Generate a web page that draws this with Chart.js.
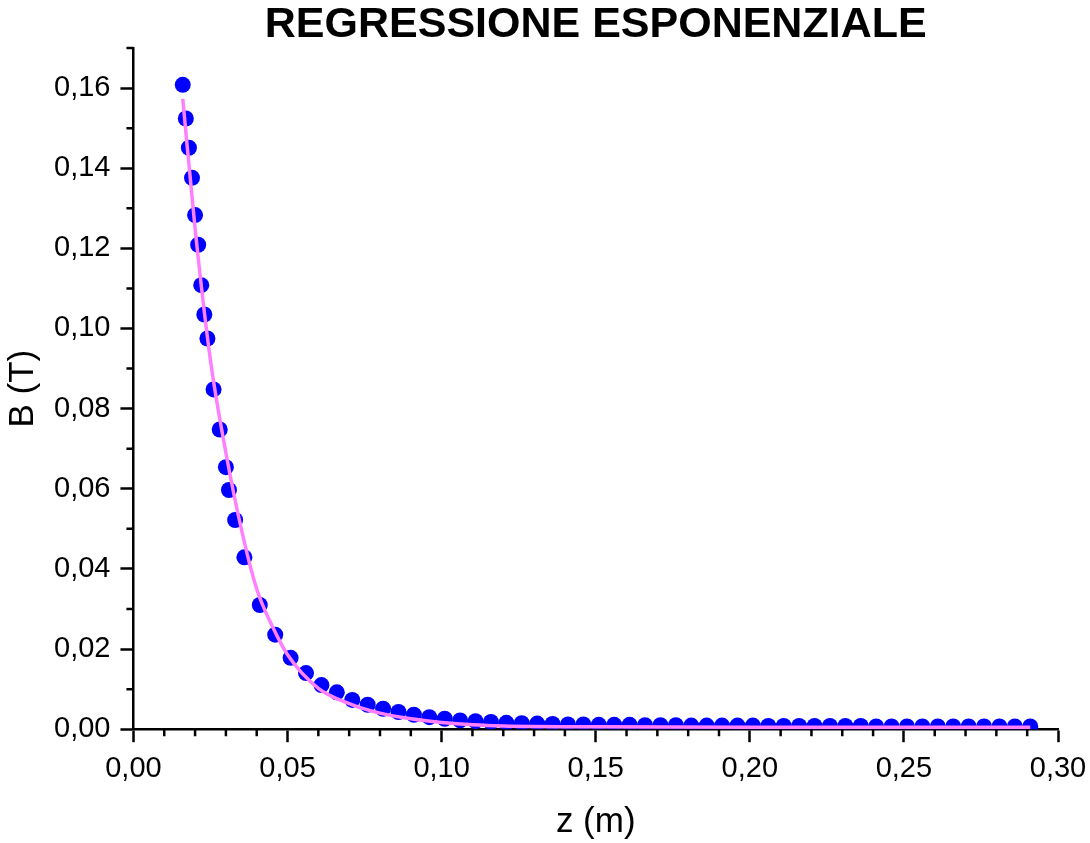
<!doctype html>
<html>
<head>
	<meta charset="utf-8">
	<title>Regressione esponenziale</title>
	<script src="https://cdn.jsdelivr.net/npm/chart.js@4.4.1/dist/chart.umd.min.js"></script>
	<style>
		html, body {margin:0; padding:0; background:#fff}
		#wrap {width:1090px; height:843px}
	</style>
</head>
<body>
	<div id="wrap"><canvas id="canvas" width="1090" height="843"></canvas></div>
	<script>
		// punti misurati: z (m), B (T)
		var zMis = [0.016, 0.017, 0.018, 0.019, 0.020, 0.021, 0.022, 0.023, 0.024, 0.026,
			0.028, 0.030, 0.031, 0.033, 0.036, 0.041, 0.046, 0.051, 0.056, 0.061,
			0.066, 0.071, 0.076, 0.081, 0.086, 0.091, 0.096, 0.101, 0.106, 0.111,
			0.116, 0.121, 0.126, 0.131, 0.136, 0.141, 0.146, 0.151, 0.156, 0.161,
			0.166, 0.171, 0.176, 0.181, 0.186, 0.191, 0.196, 0.201, 0.206, 0.211,
			0.216, 0.221, 0.226, 0.231, 0.236, 0.241, 0.246, 0.251, 0.256, 0.261,
			0.266, 0.271, 0.276, 0.281, 0.286, 0.291];
		var bMis = [0.1608, 0.1524, 0.1451, 0.1376, 0.1283, 0.1209, 0.1108, 0.1035, 0.0975, 0.0848,
			0.0748, 0.0654, 0.0597, 0.0522, 0.0429, 0.0310, 0.0236, 0.0178, 0.0140, 0.0110,
			0.0092, 0.0073, 0.0061, 0.0051, 0.0043, 0.0036, 0.0030, 0.0026, 0.0022, 0.0020,
			0.0018, 0.0016, 0.0015, 0.0014, 0.0013, 0.0012, 0.0012, 0.0011, 0.0011, 0.0011,
			0.0010, 0.0010, 0.0010, 0.0009, 0.0009, 0.0009, 0.0009, 0.0009, 0.0008, 0.0008,
			0.0008, 0.0008, 0.0008, 0.0008, 0.0008, 0.0007, 0.0007, 0.0007, 0.0007, 0.0007,
			0.0007, 0.0007, 0.0007, 0.0007, 0.0007, 0.0007];

		// curva di fit
		var zFit = [0.016, 0.020, 0.025, 0.030, 0.035, 0.040, 0.045, 0.050, 0.060, 0.070,
			0.080, 0.090, 0.100, 0.110, 0.120, 0.150, 0.200, 0.250, 0.291];
		var bFit = [0.1573, 0.1250, 0.0920, 0.0690, 0.0500, 0.0350, 0.0258, 0.0186, 0.0102, 0.0064,
			0.0040, 0.0026, 0.0017, 0.0011, 0.0008, 0.0006, 0.0005, 0.0005, 0.0005];

		var fmt = function (v) { return Number(v).toFixed(2).replace('.', ','); };

		// tacche secondarie (lunghezza diversa dalle principali)
		var minorTicks = {
			id: 'minorTicks',
			afterDraw: function (chart) {
				var c = chart.ctx, xs = chart.scales.x, ys = chart.scales.y;
				var area = chart.chartArea;
				c.save();
				c.strokeStyle = '#000';
				c.lineWidth = 2.5;
				c.beginPath();
				for (var i = 1; i < 30; i++) {
					if (i % 5 === 0) continue;
					var px = xs.getPixelForValue(i / 100);
					c.moveTo(px, area.bottom);
					c.lineTo(px, area.bottom + 7);
				}
				for (var j = 1; j <= 17; j += 2) {
					var py = ys.getPixelForValue(j / 100);
					c.moveTo(area.left, py);
					c.lineTo(area.left - 7, py);
				}
				c.stroke();
				c.restore();
			}
		};

		function drawChart() {
			var ctx = document.getElementById('canvas').getContext('2d');
			new Chart(ctx, {
				type: 'scatter',
				data: {
					datasets: [{
						label: 'fit',
						data: zFit.map(function (z, i) { return {x: z, y: bFit[i]}; }),
						showLine: true,
						borderColor: '#ff80ff',
						borderWidth: 3.5,
						pointRadius: 0,
						cubicInterpolationMode: 'monotone',
						order: 0
					}, {
						label: 'B',
						data: zMis.map(function (z, i) { return {x: z, y: bMis[i]}; }),
						backgroundColor: '#0000ff',
						borderWidth: 0,
						pointRadius: 8,
						order: 1
					}]
				},
				options: {
					responsive: false,
					animation: false,
					layout: {padding: {left: 2, right: 0, top: 0, bottom: 0}},
					plugins: {
						legend: {display: false},
						tooltip: {enabled: false},
						title: {
							display: true,
							text: 'REGRESSIONE ESPONENZIALE',
							fullSize: false,
							color: '#000',
							font: {family: 'Liberation Sans', size: 43, weight: 'bold', lineHeight: 1.0},
							padding: {top: 4, bottom: 1}
						}
					},
					scales: {
						x: {
							type: 'linear',
							min: 0, max: 0.30,
							afterFit: function (s) { s.paddingRight = 32; },
							border: {color: '#000', width: 2.5},
							grid: {drawOnChartArea: false, drawTicks: true, tickLength: 13, tickWidth: 2.5, tickColor: '#000'},
							ticks: {stepSize: 0.05, includeBounds: false, color: '#000', padding: 9,
								font: {family: 'Liberation Sans', size: 29}, callback: fmt, maxRotation: 0},
							title: {display: true, text: 'z (m)', color: '#000',
								font: {family: 'Liberation Sans', size: 35}, padding: {top: 6, bottom: 0}}
						},
						y: {
							type: 'linear',
							min: 0, max: 0.17,
							border: {color: '#000', width: 2.5},
							grid: {drawOnChartArea: false, drawTicks: true, tickLength: 13, tickWidth: 2.5, tickColor: '#000'},
							ticks: {stepSize: 0.02, includeBounds: false, color: '#000', padding: 10,
								font: {family: 'Liberation Sans', size: 29}, callback: fmt},
							title: {display: true, text: 'B (T)', color: '#000',
								font: {family: 'Liberation Sans', size: 35}, padding: {top: 0, bottom: 0}}
						}
					}
				},
				plugins: [minorTicks]
			});
		}
		window.addEventListener('load', drawChart);
	</script>
</body>
</html>
